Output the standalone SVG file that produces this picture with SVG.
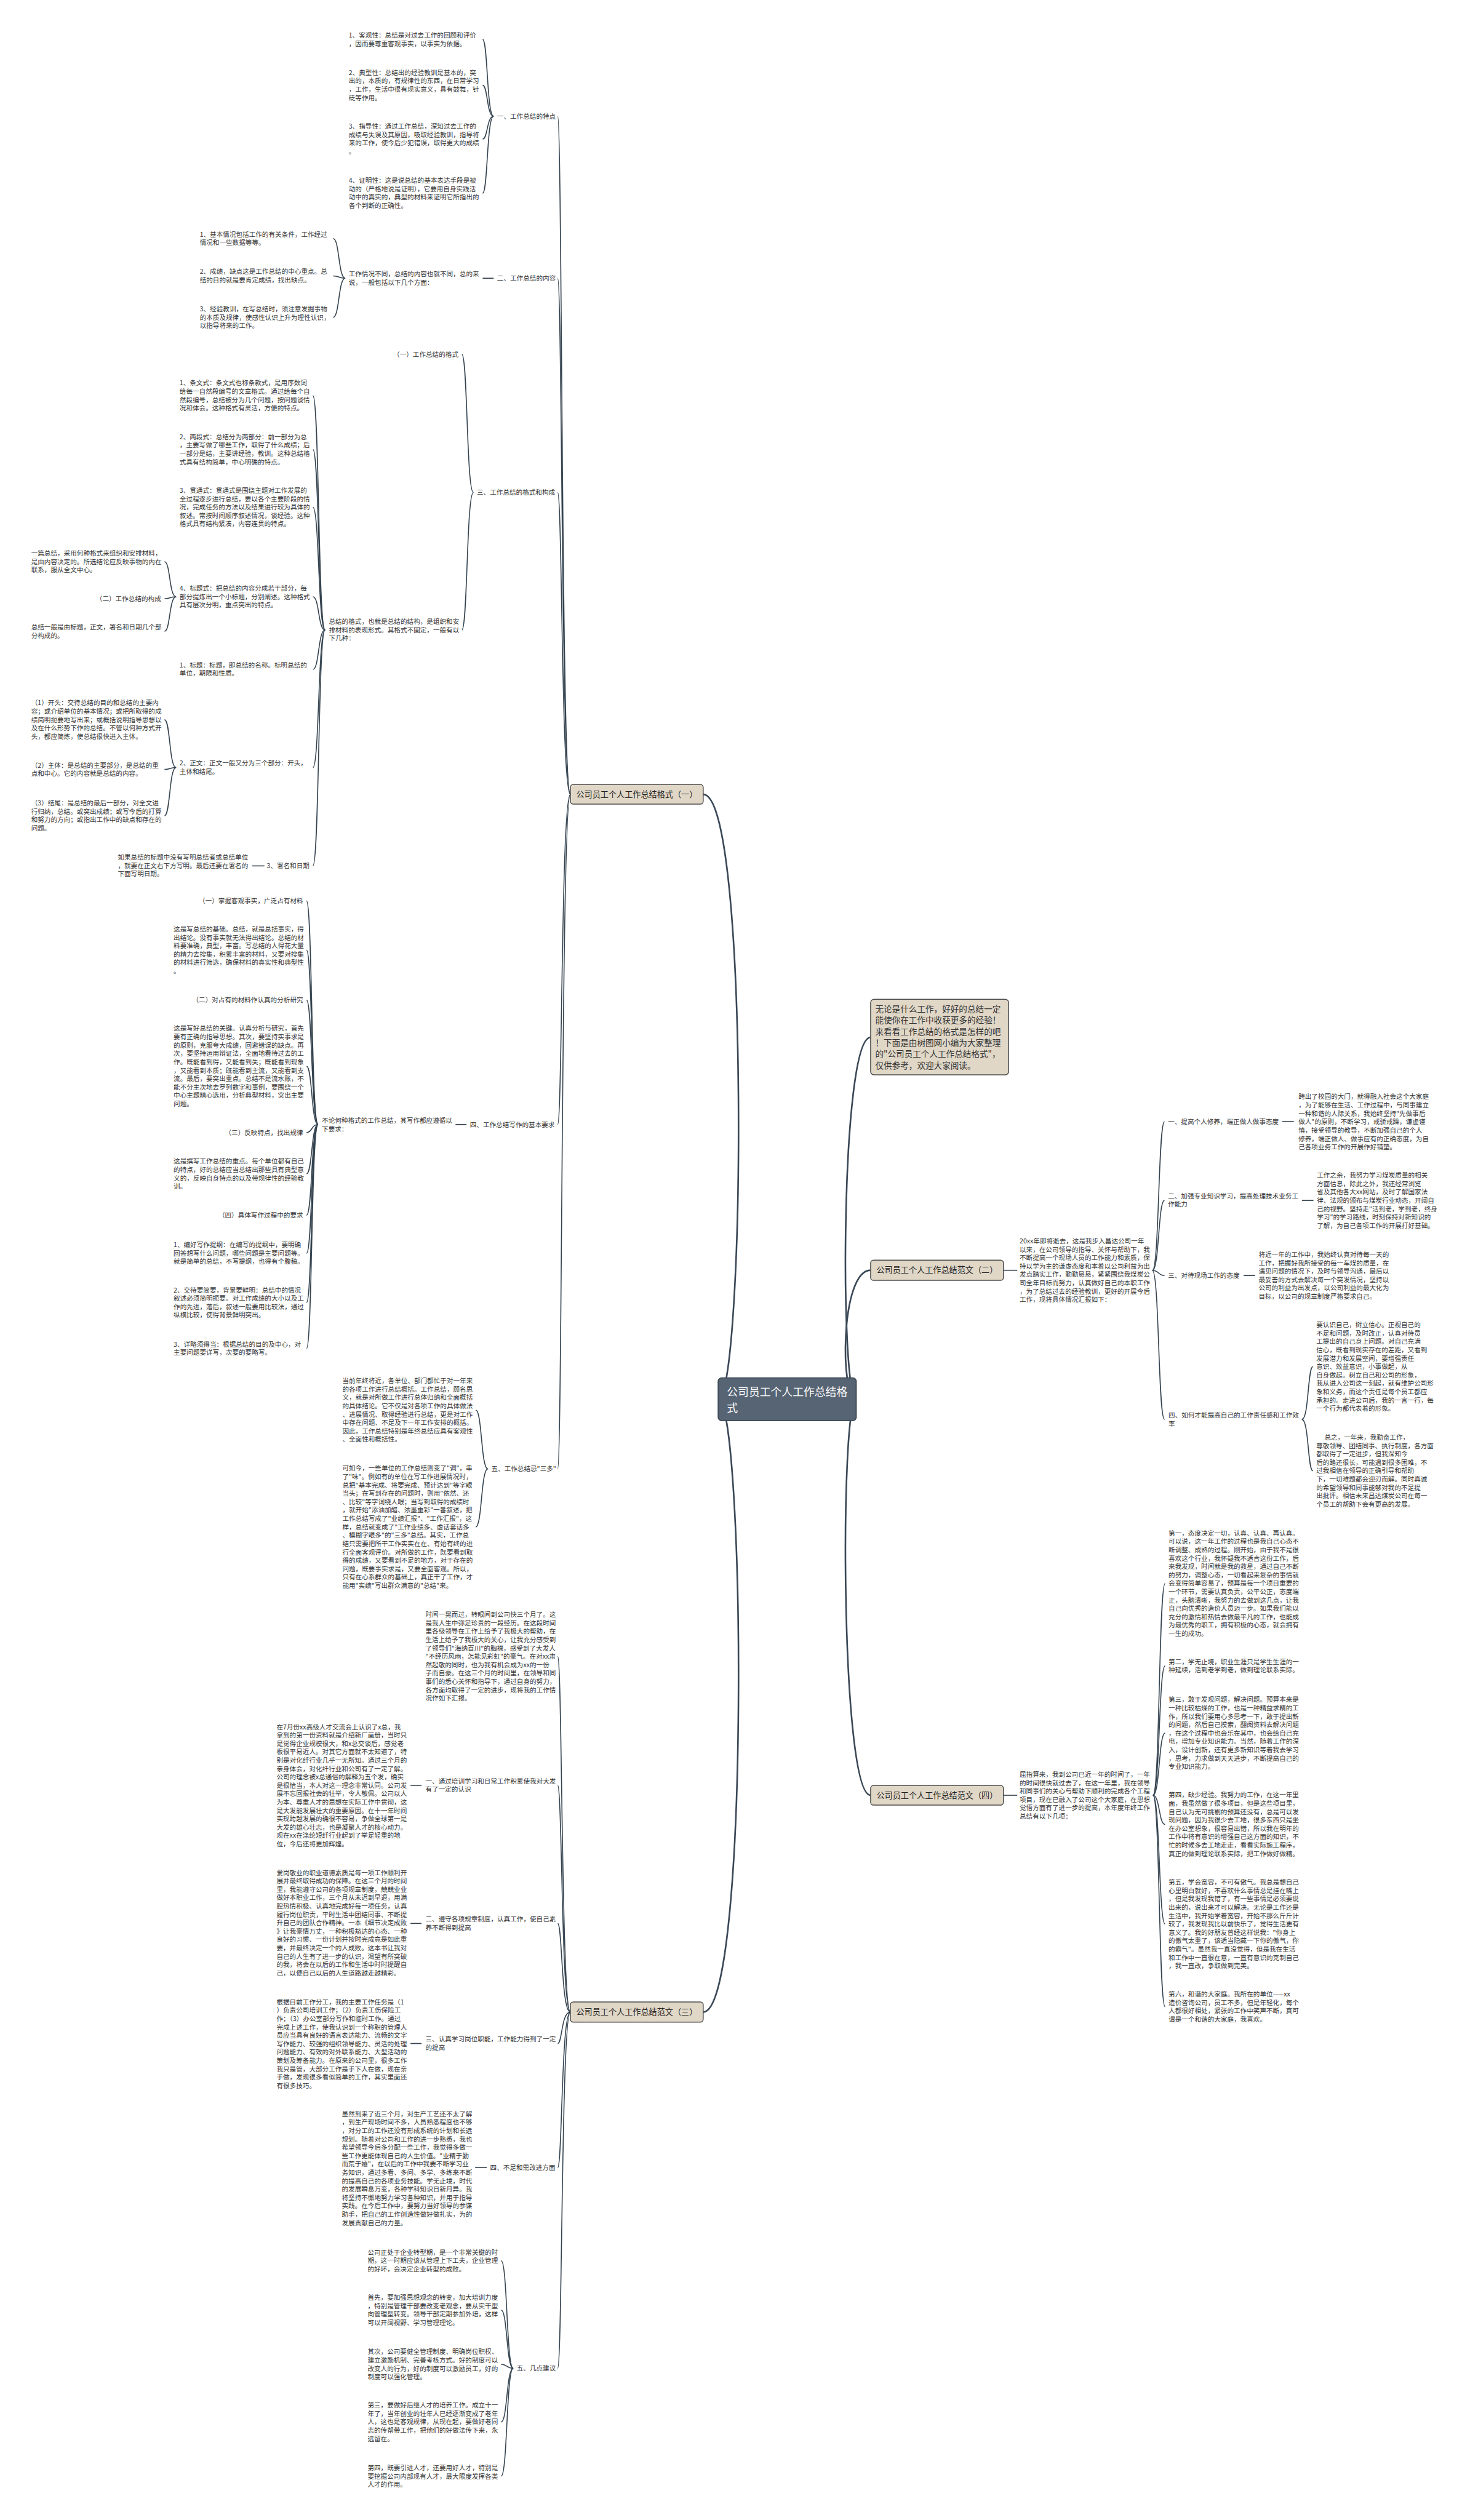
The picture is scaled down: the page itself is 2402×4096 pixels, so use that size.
<svg xmlns="http://www.w3.org/2000/svg" width="2402" height="4096" viewBox="0 0 2402 4096">
<style>
.t{font-family:"Noto Sans CJK SC","Noto Sans",sans-serif;font-size:11.3px;fill:#333}
.e{text-anchor:end}
.c{stroke:#34434f;stroke-width:1.7;fill:none}
.m{stroke:#3a4856;stroke-width:2.8;fill:none}
.bx{fill:#e0d7c7;stroke:#4d4d4d;stroke-width:1.6}
.bt{font-family:"Noto Sans CJK SC","Noto Sans",sans-serif;font-size:14px;fill:#222}
.ct{font-family:"Noto Sans CJK SC","Noto Sans",sans-serif;font-size:19px;fill:#fff}
</style>
<rect width="2402" height="4096" fill="#fff"/>
<g transform="scale(0.93828)">
<g id="connectors">
<path class="m" d="M1244 2424 C1290 2424 1300 1376 1218 1376"/>
<path class="m" d="M1244 2424 C1290 2424 1300 3485.5 1218 3485.5"/>
<path class="m" d="M1483 2424 C1455 2424 1455 1797 1508 1797"/>
<path class="m" d="M1483 2424 C1455 2424 1455 2200.5 1508 2200.5"/>
<path class="m" d="M1483 2424 C1455 2424 1455 3110 1508 3110"/>
<path class="c" d="M988 1376 C972 1376 974 201.4 966 201.4"/>
<path class="c" d="M988 1376 C972 1376 974 481.7 966 481.7"/>
<path class="c" d="M988 1376 C972 1376 974 853.1 966 853.1"/>
<path class="c" d="M988 1376 C972 1376 974 1948 966 1948"/>
<path class="c" d="M988 1376 C972 1376 974 2544.5 966 2544.5"/>
<path class="c" d="M855 201.4 C843 201.4 845 68.3 836 68.3"/>
<path class="c" d="M855 201.4 C843 201.4 845 147.7 836 147.7"/>
<path class="c" d="M855 201.4 C843 201.4 845 240.8 836 240.8"/>
<path class="c" d="M855 201.4 C843 201.4 845 334.6 836 334.6"/>
<path class="c" d="M836 482 L855 482"/>
<path class="c" d="M598 482 C586 482 588 413.2 577 413.2"/>
<path class="c" d="M598 482 C586 482 588 478 577 478"/>
<path class="c" d="M598 482 C586 482 588 549.7 577 549.7"/>
<path class="c" d="M820 853.1 C808 853.1 810 613.9 800 613.9"/>
<path class="c" d="M820 853.1 C808 853.1 810 1091.3 800 1091.3"/>
<path class="c" d="M563 1091.3 C551 1091.3 553 685.4 542 685.4"/>
<path class="c" d="M563 1091.3 C551 1091.3 553 778.6 542 778.6"/>
<path class="c" d="M563 1091.3 C551 1091.3 553 878.7 542 878.7"/>
<path class="c" d="M563 1091.3 C551 1091.3 553 1033.8 542 1033.8"/>
<path class="c" d="M563 1091.3 C551 1091.3 553 1159.5 542 1159.5"/>
<path class="c" d="M563 1091.3 C551 1091.3 553 1329.5 542 1329.5"/>
<path class="c" d="M563 1091.3 C551 1091.3 553 1500 542 1500"/>
<path class="c" d="M305 1033.8 C293 1033.8 295 973 285 973"/>
<path class="c" d="M305 1033.8 C293 1033.8 295 1037.2 285 1037.2"/>
<path class="c" d="M305 1033.8 C293 1033.8 295 1093.5 285 1093.5"/>
<path class="c" d="M305 1329.5 C293 1329.5 295 1246.8 285 1246.8"/>
<path class="c" d="M305 1329.5 C293 1329.5 295 1332.9 285 1332.9"/>
<path class="c" d="M305 1329.5 C293 1329.5 295 1413 285 1413"/>
<path class="c" d="M437 1500 L458 1500"/>
<path class="c" d="M789 1948 L808 1948"/>
<path class="c" d="M551 1948 C539 1948 541 1560.7 531 1560.7"/>
<path class="c" d="M551 1948 C539 1948 541 1646 531 1646"/>
<path class="c" d="M551 1948 C539 1948 541 1732.5 531 1732.5"/>
<path class="c" d="M551 1948 C539 1948 541 1847 531 1847"/>
<path class="c" d="M551 1948 C539 1948 541 1962 531 1962"/>
<path class="c" d="M551 1948 C539 1948 541 2033.5 531 2033.5"/>
<path class="c" d="M551 1948 C539 1948 541 2105 531 2105"/>
<path class="c" d="M551 1948 C539 1948 541 2171 531 2171"/>
<path class="c" d="M551 1948 C539 1948 541 2256.5 531 2256.5"/>
<path class="c" d="M551 1948 C539 1948 541 2336 531 2336"/>
<path class="c" d="M845 2544.5 C833 2544.5 835 2442.8 824 2442.8"/>
<path class="c" d="M845 2544.5 C833 2544.5 835 2645.2 824 2645.2"/>
<path class="c" d="M988 3485.5 C972 3485.5 974 2869.5 966 2869.5"/>
<path class="c" d="M988 3485.5 C972 3485.5 974 3092.8 966 3092.8"/>
<path class="c" d="M988 3485.5 C972 3485.5 974 3332 966 3332"/>
<path class="c" d="M988 3485.5 C972 3485.5 974 3540 966 3540"/>
<path class="c" d="M988 3485.5 C972 3485.5 974 3755 966 3755"/>
<path class="c" d="M988 3485.5 C972 3485.5 974 4102.7 966 4102.7"/>
<path class="c" d="M711 3092.8 L730 3092.8"/>
<path class="c" d="M711 3332 L730 3332"/>
<path class="c" d="M711 3540 L730 3540"/>
<path class="c" d="M823 3755 L843 3755"/>
<path class="c" d="M889 4102.7 C877 4102.7 879 3916.2 868 3916.2"/>
<path class="c" d="M889 4102.7 C877 4102.7 879 4001.8 868 4001.8"/>
<path class="c" d="M889 4102.7 C877 4102.7 879 4095.8 868 4095.8"/>
<path class="c" d="M889 4102.7 C877 4102.7 879 4195.7 868 4195.7"/>
<path class="c" d="M889 4102.7 C877 4102.7 879 4289.5 868 4289.5"/>
<path class="c" d="M1738 2200.5 L1762 2200.5"/>
<path class="c" d="M1996 2200.8 C2008 2200.8 2006 1943 2017 1943"/>
<path class="c" d="M1996 2200.8 C2008 2200.8 2006 2079.5 2017 2079.5"/>
<path class="c" d="M1996 2200.8 C2008 2200.8 2006 2209.6 2017 2209.6"/>
<path class="c" d="M1996 2200.8 C2008 2200.8 2006 2458.9 2017 2458.9"/>
<path class="c" d="M2221 1943 L2241 1943"/>
<path class="c" d="M2255 2079.5 L2275 2079.5"/>
<path class="c" d="M2154 2209.6 L2174 2209.6"/>
<path class="c" d="M2255 2458.9 C2267 2458.9 2265 2367.5 2274 2367.5"/>
<path class="c" d="M2255 2458.9 C2267 2458.9 2265 2548 2274 2548"/>
<path class="c" d="M1738 3110 L1762 3110"/>
<path class="c" d="M1997 3110 C2009 3110 2007 2743 2018 2743"/>
<path class="c" d="M1997 3110 C2009 3110 2007 2886 2018 2886"/>
<path class="c" d="M1997 3110 C2009 3110 2007 3002.3 2018 3002.3"/>
<path class="c" d="M1997 3110 C2009 3110 2007 3160.4 2018 3160.4"/>
<path class="c" d="M1997 3110 C2009 3110 2007 3333.1 2018 3333.1"/>
<path class="c" d="M1997 3110 C2009 3110 2007 3476.4 2018 3476.4"/>
</g>

<g id="center"><rect x="1244" y="2387" width="239" height="74" rx="6" fill="#566474" stroke="#3f4a56" stroke-width="2"/>
<text class="ct"><tspan x="1259" y="2418">公司员工个人工作总结格</tspan><tspan x="1259" y="2446">式</tspan></text></g>

<g id="intro"><rect class="bx" x="1508" y="1731" width="239" height="131" rx="6"/>
<text class="t" style="font-size:14.5px"><tspan x="1516" y="1753">无论是什么工作，好好的总结一定</tspan><tspan x="1516" y="1772.6">能使你在工作中收获更多的经验！</tspan><tspan x="1516" y="1792.2">来看看工作总结的格式是怎样的吧</tspan><tspan x="1516" y="1811.8">！下面是由树图网小编为大家整理</tspan><tspan x="1516" y="1831.4">的&quot;公司员工个人工作总结格式&quot;，</tspan><tspan x="1516" y="1851">仅供参考，欢迎大家阅读。</tspan></text></g>

<g id="b1"><rect class="bx" x="988" y="1359" width="230" height="34" rx="5"/><text class="bt" x="1103" y="1381" text-anchor="middle">公司员工个人工作总结格式（一）</text></g>
<g id="b2"><rect class="bx" x="1508" y="2183" width="230" height="35" rx="5"/><text class="bt" x="1623" y="2205.5" text-anchor="middle">公司员工个人工作总结范文（二）</text></g>
<g id="b4"><rect class="bx" x="1508" y="3093" width="230" height="34" rx="5"/><text class="bt" x="1623" y="3115" text-anchor="middle">公司员工个人工作总结范文（四）</text></g>
<g id="b3"><rect class="bx" x="988" y="3468" width="230" height="35" rx="5"/><text class="bt" x="1103" y="3490.5" text-anchor="middle">公司员工个人工作总结范文（三）</text></g>

<g id="s1"><text class="t" x="861" y="205.4">一、工作总结的特点</text></g>
<g id="s1a"><text class="t"><tspan x="604" y="65">1、客观性：总结是对过去工作的回顾和评价</tspan><tspan x="604" y="79.5">，因而要尊重客观事实，以事实为依据。</tspan></text></g>
<g id="s1b"><text class="t"><tspan x="604" y="129.9">2、典型性：总结出的经验教训是基本的，突</tspan><tspan x="604" y="144.4">出的，本质的，有规律性的东西，在日常学习</tspan><tspan x="604" y="158.9">，工作，生活中很有现实意义，具有鼓舞，针</tspan><tspan x="604" y="173.4">砭等作用。</tspan></text></g>
<g id="s1c"><text class="t"><tspan x="604" y="223">3、指导性：通过工作总结，深知过去工作的</tspan><tspan x="604" y="237.5">成绩与失误及其原因，吸取经验教训，指导将</tspan><tspan x="604" y="252">来的工作，使今后少犯错误，取得更大的成绩</tspan><tspan x="604" y="266.5">。</tspan></text></g>
<g id="s1d"><text class="t"><tspan x="604" y="316.8">4、证明性：这是说总结的基本表达手段是被</tspan><tspan x="604" y="331.3">动的（严格地说是证明），它要用自身实践活</tspan><tspan x="604" y="345.8">动中的真实的，典型的材料来证明它所指出的</tspan><tspan x="604" y="360.3">各个判断的正确性。</tspan></text></g>

<g id="s2"><text class="t" x="861" y="485.7">二、工作总结的内容</text></g>
<g id="s2m"><text class="t"><tspan x="604" y="478.8">工作情况不同，总结的内容也就不同，总的来</tspan><tspan x="604" y="493.3">说，一般包括以下几个方面：</tspan></text></g>
<g id="s2a"><text class="t"><tspan x="346" y="409.9">1、基本情况包括工作的有关条件，工作经过</tspan><tspan x="346" y="424.4">情况和一些数据等等。</tspan></text></g>
<g id="s2b"><text class="t"><tspan x="346" y="474.7">2、成绩，缺点这是工作总结的中心重点。总</tspan><tspan x="346" y="489.2">结的目的就是要肯定成绩，找出缺点。</tspan></text></g>
<g id="s2c"><text class="t"><tspan x="346" y="539.2">3、经验教训，在写总结时，须注意发掘事物</tspan><tspan x="346" y="553.7">的本质及规律，使感性认识上升为理性认识，</tspan><tspan x="346" y="568.2">以指导将来的工作。</tspan></text></g>

<g id="s3"><text class="t" x="826" y="857.1">三、工作总结的格式和构成</text></g>
<g id="s3a"><text class="t e" x="794" y="617.9">（一）工作总结的格式</text></g>
<g id="s3m"><text class="t"><tspan x="569.6" y="1080.8">总结的格式，也就是总结的结构，是组织和安</tspan><tspan x="569.6" y="1095.3">排材料的表现形式。其格式不固定，一般有以</tspan><tspan x="569.6" y="1109.8">下几种：</tspan></text></g>
<g id="s3m1"><text class="t"><tspan x="311" y="667.6">1、条文式：条文式也称条款式，是用序数词</tspan><tspan x="311" y="682.1">给每一自然段编号的文章格式。通过给每个自</tspan><tspan x="311" y="696.6">然段编号，总结被分为几个问题，按问题谈情</tspan><tspan x="311" y="711.1">况和体会。这种格式有灵活，方便的特点。</tspan></text></g>
<g id="s3m2"><text class="t"><tspan x="311" y="760.8">2、两段式：总结分为两部分：前一部分为总</tspan><tspan x="311" y="775.3">，主要写做了哪些工作，取得了什么成绩；后</tspan><tspan x="311" y="789.8">一部分是结，主要讲经验，教训。这种总结格</tspan><tspan x="311" y="804.3">式具有结构简单，中心明确的特点。</tspan></text></g>
<g id="s3m3"><text class="t"><tspan x="311" y="853.7">3、贯通式：贯通式是围绕主题对工作发展的</tspan><tspan x="311" y="868.2">全过程逐步进行总结，要以各个主要阶段的情</tspan><tspan x="311" y="882.7">况，完成任务的方法以及结果进行较为具体的</tspan><tspan x="311" y="897.2">叙述。常按时间顺序叙述情况，谈经验。这种</tspan><tspan x="311" y="911.7">格式具有结构紧凑，内容连贯的特点。</tspan></text></g>
<g id="s3m4"><text class="t"><tspan x="311" y="1023.3">4、标题式：把总结的内容分成若干部分，每</tspan><tspan x="311" y="1037.8">部分提炼出一个小标题，分别阐述。这种格式</tspan><tspan x="311" y="1052.3">具有层次分明，重点突出的特点。</tspan></text></g>
<g id="s3m4a"><text class="t"><tspan x="54" y="962.5">一篇总结，采用何种格式来组织和安排材料，</tspan><tspan x="54" y="977">是由内容决定的。所选结论应反映事物的内在</tspan><tspan x="54" y="991.5">联系，服从全文中心。</tspan></text></g>
<g id="s3m4b"><text class="t e" x="279" y="1041.2">（二）工作总结的构成</text></g>
<g id="s3m4c"><text class="t"><tspan x="54" y="1090.2">总结一般是由标题，正文，署名和日期几个部</tspan><tspan x="54" y="1104.7">分构成的。</tspan></text></g>
<g id="s3m5"><text class="t"><tspan x="311" y="1156.2">1、标题：标题，即总结的名称。标明总结的</tspan><tspan x="311" y="1170.7">单位，期限和性质。</tspan></text></g>
<g id="s3m6"><text class="t"><tspan x="311" y="1326.2">2、正文：正文一般又分为三个部分：开头，</tspan><tspan x="311" y="1340.7">主体和结尾。</tspan></text></g>
<g id="s3m6a"><text class="t"><tspan x="54" y="1221.8">（1）开头：交待总结的目的和总结的主要内</tspan><tspan x="54" y="1236.3">容；或介绍单位的基本情况；或把所取得的成</tspan><tspan x="54" y="1250.8">绩简明扼要地写出来；或概括说明指导思想以</tspan><tspan x="54" y="1265.3">及在什么形势下作的总结。不管以何种方式开</tspan><tspan x="54" y="1279.8">头，都应简炼，使总结很快进入主体。</tspan></text></g>
<g id="s3m6b"><text class="t"><tspan x="54" y="1329.6">（2）主体：是总结的主要部分，是总结的重</tspan><tspan x="54" y="1344.1">点和中心。它的内容就是总结的内容。</tspan></text></g>
<g id="s3m6c"><text class="t"><tspan x="54" y="1395.2">（3）结尾：是总结的最后一部分，对全文进</tspan><tspan x="54" y="1409.7">行归纳，总结。或突出成绩；或写今后的打算</tspan><tspan x="54" y="1424.2">和努力的方向；或指出工作中的缺点和存在的</tspan><tspan x="54" y="1438.7">问题。</tspan></text></g>
<g id="s3m7"><text class="t e" x="536" y="1504">3、署名和日期</text></g>
<g id="s3m7a"><text class="t"><tspan x="204" y="1488.8">如果总结的标题中没有写明总结者或总结单位</tspan><tspan x="204" y="1503.3">，就要在正文右下方写明。最后还要在署名的</tspan><tspan x="204" y="1517.8">下面写明日期。</tspan></text></g>

<g id="s4"><text class="t" x="814" y="1952">四、工作总结写作的基本要求</text></g>
<g id="s4m"><text class="t"><tspan x="557.5" y="1945">不论何种格式的工作总结，其写作都应遵循以</tspan><tspan x="557.5" y="1959.5">下要求：</tspan></text></g>
<g id="s4h1"><text class="t e" x="525" y="1564.7">（一）掌握客观事实，广泛占有材料</text></g>
<g id="s4t1"><text class="t"><tspan x="300.6" y="1613.5">这是写总结的基础。总结，就是总括事实，得</tspan><tspan x="300.6" y="1628">出结论。没有事实就无法得出结论。总结的材</tspan><tspan x="300.6" y="1642.5">料要准确，典型，丰富。写总结的人得花大量</tspan><tspan x="300.6" y="1657">的精力去搜集，积累丰富的材料，又要对搜集</tspan><tspan x="300.6" y="1671.5">的材料进行筛选，确保材料的真实性和典型性</tspan><tspan x="300.6" y="1686">。</tspan></text></g>
<g id="s4h2"><text class="t e" x="525" y="1736.5">（二）对占有的材料作认真的分析研究</text></g>
<g id="s4t2"><text class="t"><tspan x="300.6" y="1785.7">这是写好总结的关键。认真分析与研究，首先</tspan><tspan x="300.6" y="1800.2">要有正确的指导思想。其次，要坚持实事求是</tspan><tspan x="300.6" y="1814.7">的原则，克服夸大成绩，回避错误的缺点。再</tspan><tspan x="300.6" y="1829.2">次，要坚持运用辩证法，全面地看待过去的工</tspan><tspan x="300.6" y="1843.7">作。既能看到得，又能看到失；既能看到现象</tspan><tspan x="300.6" y="1858.2">，又能看到本质；既能看到主流，又能看到支</tspan><tspan x="300.6" y="1872.7">流。最后，要突出重点。总结不是流水账，不</tspan><tspan x="300.6" y="1887.2">能不分主次地去罗列数字和事例，要围绕一个</tspan><tspan x="300.6" y="1901.7">中心主题精心选用，分析典型材料，突出主要</tspan><tspan x="300.6" y="1916.2">问题。</tspan></text></g>
<g id="s4h3"><text class="t e" x="525" y="1966">（三）反映特点，找出规律</text></g>
<g id="s4t3"><text class="t"><tspan x="300.6" y="2015.8">这是撰写工作总结的重点。每个单位都有自己</tspan><tspan x="300.6" y="2030.3">的特点，好的总结应当总结出那些具有典型意</tspan><tspan x="300.6" y="2044.8">义的，反映自身特点的以及带规律性的经验教</tspan><tspan x="300.6" y="2059.3">训。</tspan></text></g>
<g id="s4h4"><text class="t e" x="525" y="2109">（四）具体写作过程中的要求</text></g>
<g id="s4t4"><text class="t"><tspan x="300.6" y="2160.5">1、编好写作提纲：在编写的提纲中，要明确</tspan><tspan x="300.6" y="2175">回答想写什么问题，哪些问题是主要问题等。</tspan><tspan x="300.6" y="2189.5">就是简单的总结，不写提纲，也得有个腹稿。</tspan></text></g>
<g id="s4t5"><text class="t"><tspan x="300.6" y="2238.7">2、交待要简要，背景要鲜明：总结中的情况</tspan><tspan x="300.6" y="2253.2">叙述必须简明扼要。对工作成绩的大小以及工</tspan><tspan x="300.6" y="2267.7">作的先进，落后，叙述一般要用比较法，通过</tspan><tspan x="300.6" y="2282.2">纵横比较，使得背景鲜明突出。</tspan></text></g>
<g id="s4t6"><text class="t"><tspan x="300.6" y="2332.7">3、详略须得当：根据总结的目的及中心，对</tspan><tspan x="300.6" y="2347.2">主要问题要详写，次要的要略写。</tspan></text></g>

<g id="s5"><text class="t" x="851" y="2548.5">五、工作总结忌&quot;三多&quot;</text></g>
<g id="s5a"><text class="t"><tspan x="593" y="2396">当前年终将近，各单位、部门都忙于对一年来</tspan><tspan x="593" y="2410.5">的各项工作进行总结概括。工作总结，顾名思</tspan><tspan x="593" y="2425">义，就是对所做工作进行总体归纳和全面概括</tspan><tspan x="593" y="2439.5">的具体结论。它不仅是对各项工作的具体做法</tspan><tspan x="593" y="2454">、进展情况、取得经验进行总结，更是对工作</tspan><tspan x="593" y="2468.5">中存在问题、不足及下一年工作安排的概括。</tspan><tspan x="593" y="2483">因此，工作总结特别是年终总结应具有客观性</tspan><tspan x="593" y="2497.5">、全面性和概括性。</tspan></text></g>
<g id="s5b"><text class="t"><tspan x="593" y="2547.7">可如今，一些单位的工作总结则变了&quot;调&quot;，串</tspan><tspan x="593" y="2562.2">了&quot;味&quot;。例如有的单位在写工作进展情况时，</tspan><tspan x="593" y="2576.7">总把&quot;基本完成、将要完成、预计达到&quot;等字眼</tspan><tspan x="593" y="2591.2">当头；在写到存在的问题时，则用&quot;依然、还</tspan><tspan x="593" y="2605.7">、比较&quot;等字词绕人眼；当写到取得的成绩时</tspan><tspan x="593" y="2620.2">，就开始&quot;添油加醋、浓墨重彩&quot;一番叙述，把</tspan><tspan x="593" y="2634.7">工作总结写成了&quot;业绩汇报&quot;、&quot;工作汇报&quot;，这</tspan><tspan x="593" y="2649.2">样，总结就变成了&quot;工作业绩多、虚话套话多</tspan><tspan x="593" y="2663.7">、模糊字眼多&quot;的&quot;三多&quot;总结。其实，工作总</tspan><tspan x="593" y="2678.2">结只需要把所干工作实实在在、有始有终的进</tspan><tspan x="593" y="2692.7">行全面客观评价。对所做的工作，既要看到取</tspan><tspan x="593" y="2707.2">得的成绩，又要看到不足的地方，对于存在的</tspan><tspan x="593" y="2721.7">问题，既要事实求是，又要全面客观。所以，</tspan><tspan x="593" y="2736.2">只有在心系群众的基础上，真正干了工作，才</tspan><tspan x="593" y="2750.7">能用&quot;实绩&quot;写出群众满意的&quot;总结&quot;来。</tspan></text></g>

<g id="r0"><text class="t"><tspan x="737" y="2801">时间一晃而过，转眼间到公司快三个月了。这</tspan><tspan x="737" y="2815.5">是我人生中弥足珍贵的一段经历。在这段时间</tspan><tspan x="737" y="2830">里各级领导在工作上给予了我极大的帮助，在</tspan><tspan x="737" y="2844.5">生活上给予了我极大的关心，让我充分感受到</tspan><tspan x="737" y="2859">了领导们&quot;海纳百川&quot;的胸襟，感受到了大发人</tspan><tspan x="737" y="2873.5">&quot;不经历风雨，怎能见彩虹&quot;的豪气。在对xx肃</tspan><tspan x="737" y="2888">然起敬的同时，也为我有机会成为xx的一份</tspan><tspan x="737" y="2902.5">子而自豪。在这三个月的时间里，在领导和同</tspan><tspan x="737" y="2917">事们的悉心关怀和指导下，通过自身的努力，</tspan><tspan x="737" y="2931.5">各方面均取得了一定的进步，现将我的工作情</tspan><tspan x="737" y="2946">况作如下汇报。</tspan></text></g>
<g id="r1"><text class="t"><tspan x="737" y="3089.5">一、通过培训学习和日常工作积累使我对大发</tspan><tspan x="737" y="3104">有了一定的认识</tspan></text></g>
<g id="r1t"><text class="t"><tspan x="479" y="2995.5">在7月份xx高级人才交流会上认识了x总，我</tspan><tspan x="479" y="3010">拿到的第一份资料就是介绍新厂画册，当时只</tspan><tspan x="479" y="3024.5">是觉得企业规模很大，和x总交谈后，感觉老</tspan><tspan x="479" y="3039">板很平易近人。对其它方面就不太知道了，特</tspan><tspan x="479" y="3053.5">别是对化纤行业几乎一无所知。通过三个月的</tspan><tspan x="479" y="3068">亲身体会，对化纤行业和公司有了一定了解。</tspan><tspan x="479" y="3082.5">公司的理念被x总通俗的解释为五个发，确实</tspan><tspan x="479" y="3097">是很恰当，本人对这一理念非常认同。公司发</tspan><tspan x="479" y="3111.5">展不忘回报社会的壮举，令人敬佩。公司以人</tspan><tspan x="479" y="3126">为本、尊重人才的思想在实际工作中贯彻，这</tspan><tspan x="479" y="3140.5">是大发能发展壮大的重要原因。在十一年时间</tspan><tspan x="479" y="3155">实现跨越发展的确很不容易，争做全球第一是</tspan><tspan x="479" y="3169.5">大发的雄心壮志，也是凝聚人才的核心动力。</tspan><tspan x="479" y="3184">现在xx在涤纶短纤行业起到了举足轻重的地</tspan><tspan x="479" y="3198.5">位，今后还将更加辉煌。</tspan></text></g>
<g id="r2"><text class="t"><tspan x="737" y="3328.7">二、遵守各项规章制度，认真工作，使自己素</tspan><tspan x="737" y="3343.2">养不断得到提高</tspan></text></g>
<g id="r2t"><text class="t"><tspan x="479" y="3248">爱岗敬业的职业道德素质是每一项工作顺利开</tspan><tspan x="479" y="3262.5">展并最终取得成功的保障。在这三个月的时间</tspan><tspan x="479" y="3277">里，我能遵守公司的各项规章制度，兢兢业业</tspan><tspan x="479" y="3291.5">做好本职业工作，三个月从未迟到早退，用满</tspan><tspan x="479" y="3306">腔热情积极、认真地完成好每一项任务，认真</tspan><tspan x="479" y="3320.5">履行岗位职责，平时生活中团结同事、不断提</tspan><tspan x="479" y="3335">升自己的团队合作精神。一本《细节决定成败</tspan><tspan x="479" y="3349.5">》让我豪情万丈，一种积极豁达的心态、一种</tspan><tspan x="479" y="3364">良好的习惯、一份计划并按时完成竟是如此重</tspan><tspan x="479" y="3378.5">要，并最终决定一个的人成败。这本书让我对</tspan><tspan x="479" y="3393">自己的人生有了进一步的认识，渴望有所突破</tspan><tspan x="479" y="3407.5">的我，将会在以后的工作和生活中时时提醒自</tspan><tspan x="479" y="3422">己，以便自己以后的人生道路越走越精彩。</tspan></text></g>
<g id="r3"><text class="t"><tspan x="737" y="3536.6">三、认真学习岗位职能，工作能力得到了一定</tspan><tspan x="737" y="3551.1">的提高</tspan></text></g>
<g id="r3t"><text class="t"><tspan x="479" y="3472">根据目前工作分工，我的主要工作任务是（1</tspan><tspan x="479" y="3486.5">）负责公司培训工作；（2）负责工伤保险工</tspan><tspan x="479" y="3501">作；（3）办公室部分写作和临时工作。通过</tspan><tspan x="479" y="3515.5">完成上述工作，使我认识到一个称职的管理人</tspan><tspan x="479" y="3530">员应当具有良好的语言表达能力、流畅的文字</tspan><tspan x="479" y="3544.5">写作能力、较强的组织领导能力、灵活的处理</tspan><tspan x="479" y="3559">问题能力、有效的对外联系能力、大型活动的</tspan><tspan x="479" y="3573.5">策划及筹备能力。在原来的公司里，很多工作</tspan><tspan x="479" y="3588">我只是管，大部分工作是手下人在做，现在亲</tspan><tspan x="479" y="3602.5">手做，发现很多看似简单的工作，其实里面还</tspan><tspan x="479" y="3617">有很多技巧。</tspan></text></g>
<g id="r4"><text class="t" x="849" y="3759">四、不足和需改进方面</text></g>
<g id="r4t"><text class="t"><tspan x="592" y="3666">虽然到来了近三个月，对生产工艺还不太了解</tspan><tspan x="592" y="3680.5">，到生产现场时间不多，人员熟悉程度也不够</tspan><tspan x="592" y="3695">，对分工的工作还没有形成系统的计划和长远</tspan><tspan x="592" y="3709.5">规划。随着对公司和工作的进一步熟悉，我也</tspan><tspan x="592" y="3724">希望领导今后多分配一些工作，我觉得多做一</tspan><tspan x="592" y="3738.5">些工作更能体现自己的人生价值。&quot;业精于勤</tspan><tspan x="592" y="3753">而荒于嬉&quot;，在以后的工作中我要不断学习业</tspan><tspan x="592" y="3767.5">务知识，通过多看、多问、多学、多练来不断</tspan><tspan x="592" y="3782">的提高自己的各项业务技能。学无止境，时代</tspan><tspan x="592" y="3796.5">的发展瞬息万变，各种学科知识日新月异。我</tspan><tspan x="592" y="3811">将坚持不懈地努力学习各种知识，并用于指导</tspan><tspan x="592" y="3825.5">实践。在今后工作中，要努力当好领导的参谋</tspan><tspan x="592" y="3840">助手，把自己的工作创造性做好做扎实，为的</tspan><tspan x="592" y="3854.5">发展贡献自己的力量。</tspan></text></g>
<g id="r5"><text class="t" x="895" y="4106.7">五、几点建议</text></g>
<g id="r5a"><text class="t"><tspan x="636.7" y="3905.7">公司正处于企业转型期，是一个非常关键的时</tspan><tspan x="636.7" y="3920.2">期，这一时期应该从管理上下工夫，企业管理</tspan><tspan x="636.7" y="3934.7">的好坏，会决定企业转型的成败。</tspan></text></g>
<g id="r5b"><text class="t"><tspan x="636.7" y="3984">首先，要加强思想观念的转变，加大培训力度</tspan><tspan x="636.7" y="3998.5">，特别是管理干部要改变老观念，要从实干型</tspan><tspan x="636.7" y="4013">向管理型转变。领导干部定期参加外培，这样</tspan><tspan x="636.7" y="4027.5">可以开阔视野、学习管理理论。</tspan></text></g>
<g id="r5c"><text class="t"><tspan x="636.7" y="4078">其次，公司要健全管理制度、明确岗位职权、</tspan><tspan x="636.7" y="4092.5">建立激励机制、完善考核方式。好的制度可以</tspan><tspan x="636.7" y="4107">改变人的行为，好的制度可以激励员工，好的</tspan><tspan x="636.7" y="4121.5">制度可以强化管理。</tspan></text></g>
<g id="r5d"><text class="t"><tspan x="636.7" y="4170.7">第三，要做好后继人才的培养工作。成立十一</tspan><tspan x="636.7" y="4185.2">年了，当年创业的壮年人已经逐渐变成了老年</tspan><tspan x="636.7" y="4199.7">人，这也是客观规律，从现在起，要做好老同</tspan><tspan x="636.7" y="4214.2">志的传帮带工作，把他们的好做法传下来，永</tspan><tspan x="636.7" y="4228.7">远留在。</tspan></text></g>
<g id="r5e"><text class="t"><tspan x="636.7" y="4279">第四，既要引进人才，还要用好人才，特别是</tspan><tspan x="636.7" y="4293.5">要挖掘公司内部现有人才，最大限度发挥各类</tspan><tspan x="636.7" y="4308">人才的作用。</tspan></text></g>

<g id="q0"><text class="t"><tspan x="1766" y="2154">20xx年即将逝去，这是我步入昌达公司一年</tspan><tspan x="1766" y="2168.5">以来，在公司领导的指导、关怀与帮助下，我</tspan><tspan x="1766" y="2183">不断提高一个现场人员的工作能力和素质，保</tspan><tspan x="1766" y="2197.5">持以学为主的谦虚态度和本着以公司利益为出</tspan><tspan x="1766" y="2212">发点踏实工作，勤勤恳恳，紧紧围绕我煤炭公</tspan><tspan x="1766" y="2226.5">司全年目标而努力，认真做好自己的本职工作</tspan><tspan x="1766" y="2241">，为了总结过去的经验教训，更好的开展今后</tspan><tspan x="1766" y="2255.5">工作，现将具体情况汇报如下：</tspan></text></g>
<g id="q1"><text class="t" x="2023" y="1947">一、提高个人修养，端正做人做事态度</text></g>
<g id="q1t"><text class="t"><tspan x="2249" y="1904">跨出了校园的大门，就得融入社会这个大家庭</tspan><tspan x="2249" y="1918.5">，为了能够在生活、工作过程中，与同事建立</tspan><tspan x="2249" y="1933">一种和谐的人际关系，我始终坚持&quot;先做事后</tspan><tspan x="2249" y="1947.5">做人&quot;的原则，不断学习，戒骄戒躁，谦虚谨</tspan><tspan x="2249" y="1962">慎，接受领导的教导，不断加强自己的个人</tspan><tspan x="2249" y="1976.5">修养，端正做人、做事应有的正确态度，为自</tspan><tspan x="2249" y="1991">己各项业务工作的开展作好铺垫。</tspan></text></g>
<g id="q2"><text class="t"><tspan x="2023" y="2076">二、加强专业知识学习，提高处理技术业务工</tspan><tspan x="2023" y="2090.5">作能力</tspan></text></g>
<g id="q2t"><text class="t"><tspan x="2281" y="2040">工作之余，我努力学习煤炭质量的相关</tspan><tspan x="2281" y="2054.5">方面信息，除此之外，我还经常浏览</tspan><tspan x="2281" y="2069">省及其他各大xx网站，及时了解国家法</tspan><tspan x="2281" y="2083.5">律、法规的颁布与煤炭行业动态，开阔自</tspan><tspan x="2281" y="2098">己的视野。坚持走&quot;活到老，学到老，终身</tspan><tspan x="2281" y="2112.5">学习&quot;的学习路线，时刻保持对新知识的</tspan><tspan x="2281" y="2127">了解，为自己各项工作的开展打好基础。</tspan></text></g>
<g id="q3"><text class="t" x="2023" y="2213.6">三、对待现场工作的态度</text></g>
<g id="q3t"><text class="t"><tspan x="2180" y="2177.3">将近一年的工作中，我始终认真对待每一天的</tspan><tspan x="2180" y="2191.8">工作，把握好我所接受的每一车煤的质量，在</tspan><tspan x="2180" y="2206.3">遇见问题的情况下，及时与领导沟通，最后以</tspan><tspan x="2180" y="2220.8">最妥善的方式去解决每一个突发情况，坚持以</tspan><tspan x="2180" y="2235.3">公司的利益为出发点，以公司利益的最大化为</tspan><tspan x="2180" y="2249.8">目标，以公司的规章制度严格要求自己。</tspan></text></g>
<g id="q4"><text class="t"><tspan x="2024" y="2455.7">四、如何才能提高自己的工作责任感和工作效</tspan><tspan x="2024" y="2470.2">率</tspan></text></g>
<g id="q4a"><text class="t"><tspan x="2280" y="2299">要认识自己，树立信心。正视自己的</tspan><tspan x="2280" y="2313.5">不足和问题，及时改正，认真对待员</tspan><tspan x="2280" y="2328">工提出的自己身上问题。对自己充满</tspan><tspan x="2280" y="2342.5">信心，既看到现实存在的差距，又看到</tspan><tspan x="2280" y="2357">发展潜力和发展空间，要增强责任</tspan><tspan x="2280" y="2371.5">意识、效益意识，小事做起，从</tspan><tspan x="2280" y="2386">自身做起。树立自己和公司的形象，</tspan><tspan x="2280" y="2400.5">我从进入公司这一刻起，就有维护公司形</tspan><tspan x="2280" y="2415">象和义务，而这个责任是每个员工都应</tspan><tspan x="2280" y="2429.5">承担的。走进公司后，我的一言一行，每</tspan><tspan x="2280" y="2444">一个行为都代表着的形象。</tspan></text></g>
<g id="q4b"><text class="t"><tspan x="2294" y="2494">总之，一年来，我勤奋工作，</tspan><tspan x="2280" y="2508.5">尊敬领导、团结同事、执行制度，各方面</tspan><tspan x="2280" y="2523">都取得了一定进步，但我深知今</tspan><tspan x="2280" y="2537.5">后的路还很长，可能遇到很多困难，不</tspan><tspan x="2280" y="2552">过我相信在领导的正确引导和帮助</tspan><tspan x="2280" y="2566.5">下，一切难题都会迎刃而解。同时真诚</tspan><tspan x="2280" y="2581">的希望领导和同事能够对我的不足提</tspan><tspan x="2280" y="2595.5">出批评。相信未来昌达煤炭公司在每一</tspan><tspan x="2280" y="2610">个员工的帮助下会有更高的发展。</tspan></text></g>

<g id="p0"><text class="t"><tspan x="1766" y="3078">屈指算来，我到公司已近一年的时间了，一年</tspan><tspan x="1766" y="3092.5">的时间很快就过去了，在这一年里，我在领导</tspan><tspan x="1766" y="3107">和同事们的关心与帮助下顺利的完成各个工程</tspan><tspan x="1766" y="3121.5">项目，现在已融入了公司这个大家庭，在思想</tspan><tspan x="1766" y="3136">觉悟方面有了进一步的提高，本年度年终工作</tspan><tspan x="1766" y="3150.5">总结有以下几项：</tspan></text></g>
<g id="p1"><text class="t"><tspan x="2024" y="2660">第一，态度决定一切，认真、认真、再认真。</tspan><tspan x="2024" y="2674.5">可以说，这一年工作的过程也是我自己心态不</tspan><tspan x="2024" y="2689">断调整、成熟的过程。刚开始，由于我不是很</tspan><tspan x="2024" y="2703.5">喜欢这个行业，我怀疑我不适合这份工作，后</tspan><tspan x="2024" y="2718">来我发现，时间就是我的救星，通过自己不断</tspan><tspan x="2024" y="2732.5">的努力，调整心态，一切看起来复杂的事情就</tspan><tspan x="2024" y="2747">会变得简单容易了，预算是每一个项目重要的</tspan><tspan x="2024" y="2761.5">一个环节，需要认真负责，公平公正，态度端</tspan><tspan x="2024" y="2776">正，头脑清晰，我努力的去做到这几点，让我</tspan><tspan x="2024" y="2790.5">自己向优秀的造价人员迈一步。如果我们能以</tspan><tspan x="2024" y="2805">充分的激情和热情去做最平凡的工作，也能成</tspan><tspan x="2024" y="2819.5">为最优秀的职工，拥有积极的心态，就会拥有</tspan><tspan x="2024" y="2834">一生的成功。</tspan></text></g>
<g id="p2"><text class="t"><tspan x="2024" y="2882.6">第二，学无止境，职业生涯只是学生生涯的一</tspan><tspan x="2024" y="2897.1">种延续，活到老学到老，做到理论联系实际。</tspan></text></g>
<g id="p3"><text class="t"><tspan x="2024" y="2948.3">第三，敢于发现问题，解决问题。预算本来是</tspan><tspan x="2024" y="2962.8">一种比较枯燥的工作，也是一种精益求精的工</tspan><tspan x="2024" y="2977.3">作，所以我们要用心多思考一下，敢于提出新</tspan><tspan x="2024" y="2991.8">的问题，然后自己摸索，翻阅资料去解决问题</tspan><tspan x="2024" y="3006.3">，在这个过程中也会乐在其中，也会给自己充</tspan><tspan x="2024" y="3020.8">电，增加专业知识能力。当然，随着工作的深</tspan><tspan x="2024" y="3035.3">入，设计创新，还有更多新知识等着我去学习</tspan><tspan x="2024" y="3049.8">，思考，力求做到天天进步，不断提高自己的</tspan><tspan x="2024" y="3064.3">专业知识能力。</tspan></text></g>
<g id="p4"><text class="t"><tspan x="2024" y="3113.6">第四，缺少经验。我努力的工作，在这一年里</tspan><tspan x="2024" y="3128.1">面，我虽然做了很多项目，但是这些项目里，</tspan><tspan x="2024" y="3142.6">自己认为无可挑剔的预算还没有，总是可以发</tspan><tspan x="2024" y="3157.1">现问题，因为我很少去工地，很多东西只是坐</tspan><tspan x="2024" y="3171.6">在办公室想象，很容易出错，所以我在明年的</tspan><tspan x="2024" y="3186.1">工作中将有意识的增强自己这方面的知识，不</tspan><tspan x="2024" y="3200.6">忙的时候多去工地走走，看看实际施工程序，</tspan><tspan x="2024" y="3215.1">真正的做到理论联系实际，把工作做好做精。</tspan></text></g>
<g id="p5"><text class="t"><tspan x="2024" y="3264.6">第五，学会宽容，不可有傲气。我总是想自己</tspan><tspan x="2024" y="3279.1">心里明白就好，不喜欢什么事情总是挂在嘴上</tspan><tspan x="2024" y="3293.6">，但是我发现我错了，有一些事情是必须要说</tspan><tspan x="2024" y="3308.1">出来的，说出来才可以解决。无论是工作还是</tspan><tspan x="2024" y="3322.6">生活中，我开始学着宽容，开始不那么斤斤计</tspan><tspan x="2024" y="3337.1">较了，我发现我比以前快乐了，觉得生活更有</tspan><tspan x="2024" y="3351.6">意义了。我的好朋友曾经这样说我：&quot;你身上</tspan><tspan x="2024" y="3366.1">的傲气太重了，该适当隐藏一下你的傲气，你</tspan><tspan x="2024" y="3380.6">的霸气&quot;。虽然我一直没觉得，但是我在生活</tspan><tspan x="2024" y="3395.1">和工作中一直很在意，一直有意识的克制自己</tspan><tspan x="2024" y="3409.6">，我一直改，争取做到完美。</tspan></text></g>
<g id="p6"><text class="t"><tspan x="2024" y="3458.6">第六，和谐的大家庭。我所在的单位——xx</tspan><tspan x="2024" y="3473.1">造价咨询公司，员工不多，但是年轻化，每个</tspan><tspan x="2024" y="3487.6">人都很好相处，紧张的工作中笑声不断，真可</tspan><tspan x="2024" y="3502.1">谓是一个和谐的大家庭，我喜欢。</tspan></text></g>
</g>
</svg>
